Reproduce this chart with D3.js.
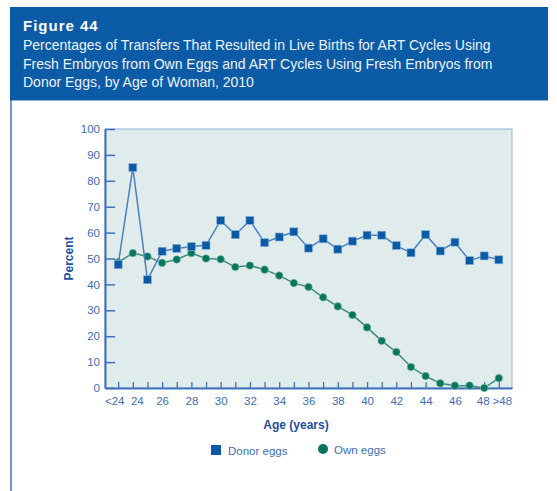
<!DOCTYPE html>
<html>
<head>
<meta charset="utf-8">
<script src="https://cdn.jsdelivr.net/npm/d3@7"></script>
<style>
  body { margin: 0; background: #fff; }
  svg { display: block; font-family: "Liberation Sans", Arial, sans-serif; }
</style>
</head>
<body>
<svg id="chart"></svg>
<script>
const ages = ["<24", "24", "25", "26", "27", "28", "29", "30", "31", "32", "33", "34", "35", "36",
  "37", "38", "39", "40", "41", "42", "43", "44", "45", "46", "47", "48", ">48"];
const donorEggs = [47.6, 85.1, 41.8, 52.8, 53.9, 54.6, 55.1, 64.7, 59.2, 64.7, 56.1, 58.3, 60.3, 54.0,
  57.6, 53.6, 56.7, 59.0, 59.0, 55.0, 52.2, 59.2, 52.9, 56.3, 49.2, 51.0, 49.5];
const ownEggs = [48.5, 52.1, 50.8, 48.3, 49.6, 52.1, 50.0, 49.7, 46.7, 47.3, 45.7, 43.4, 40.5, 39.0,
  35.0, 31.5, 28.2, 23.4, 18.2, 13.9, 8.1, 4.6, 1.8, 0.9, 0.9, 0, 3.8];
const labelAges = ["<24", "24", "26", "28", "30", "32", "34", "36", "38", "40", "42", "44", "46", "48", ">48"];
const yTicks = [0, 10, 20, 30, 40, 50, 60, 70, 80, 90, 100];
const titleLines = [
  "Percentages of Transfers That Resulted in Live Births for ART Cycles Using",
  "Fresh Embryos from Own Eggs and ART Cycles Using Fresh Embryos from",
  "Donor Eggs, by Age of Woman, 2010"
];

const width = 557, height = 491;
const plot = { left: 105, right: 512, top: 129, bottom: 388 };
const blue = "#0b5aa6", green = "#08755e", axisBlue = "#3f72b8", textBlue = "#3d6db5";

const svg = d3.select("#chart").attr("width", width).attr("height", height);

// header box
svg.append("rect").attr("x", 10).attr("y", 7).attr("width", 538).attr("height", 93).attr("fill", "#0b5ba6");
svg.append("line").attr("x1", 10).attr("x2", 548).attr("y1", 100.5).attr("y2", 100.5)
  .attr("stroke", "#8fb0da").attr("stroke-width", 1);
svg.append("line").attr("x1", 11).attr("x2", 11).attr("y1", 100).attr("y2", height)
  .attr("stroke", "#3b78c2").attr("stroke-width", 1.5);

svg.append("text").attr("x", 23).attr("y", 31).attr("fill", "#fff")
  .style("font-size", "15px").style("font-weight", "bold").style("letter-spacing", "1px")
  .text("Figure 44");
svg.append("g").selectAll("text").data(titleLines).join("text")
  .attr("x", 23).attr("y", (d, i) => 50 + i * 18.6)
  .attr("fill", "#eef3fa").style("font-size", "14px").text(d => d);

const x = d3.scalePoint().domain(ages).range([plot.left, plot.right]).padding(0.9);
const y = d3.scaleLinear().domain([0, 100]).range([plot.bottom, plot.top]);

svg.append("rect").attr("x", plot.left).attr("y", plot.top)
  .attr("width", plot.right - plot.left).attr("height", plot.bottom - plot.top)
  .attr("fill", "#e0ebeb").attr("stroke", "#8fb0da").attr("stroke-width", 1);

const yAxis = svg.append("g").attr("transform", `translate(${plot.left},0)`)
  .call(d3.axisLeft(y).tickValues(yTicks).tickSizeInner(-10).tickSizeOuter(0).tickPadding(5));
yAxis.select(".domain").attr("stroke", axisBlue).attr("stroke-width", 2);
yAxis.selectAll(".tick line").attr("stroke", axisBlue).attr("stroke-width", 1.5);
yAxis.selectAll(".tick text").attr("fill", textBlue).style("font-size", "11.5px")
  .style("font-family", "Liberation Sans, Arial, sans-serif");

// label nudges so "<24"/"24" and "48"/">48" do not touch
const labelShift = { "<24": -4, "24": 4, "48": -1.5, ">48": 3 };
const xAxis = svg.append("g").attr("transform", `translate(0,${plot.bottom})`)
  .call(d3.axisBottom(x).tickSizeInner(-6).tickSizeOuter(0).tickPadding(9)
    .tickFormat(d => labelAges.includes(d) ? d : ""));
xAxis.select(".domain").attr("stroke", axisBlue).attr("stroke-width", 2);
xAxis.selectAll(".tick line").attr("stroke", axisBlue).attr("stroke-width", 1.3);
xAxis.selectAll(".tick text").attr("fill", textBlue).style("font-size", "11.5px")
  .style("font-family", "Liberation Sans, Arial, sans-serif")
  .attr("dx", d => labelShift[d] || 0);

svg.append("text").attr("transform", `translate(73,${(plot.top + plot.bottom) / 2}) rotate(-90)`)
  .attr("text-anchor", "middle").attr("fill", "#1d4f9c")
  .style("font-size", "12px").style("font-weight", "bold").text("Percent");
svg.append("text").attr("x", 296).attr("y", 429).attr("text-anchor", "middle").attr("fill", "#1d4f9c")
  .style("font-size", "12px").style("font-weight", "bold").text("Age (years)");

// own eggs series
const seriesLine = d3.line().x((d, i) => x(ages[i])).y(d => y(d));
svg.append("path").datum(ownEggs).attr("d", seriesLine)
  .attr("fill", "none").attr("stroke", "#3d8d79").attr("stroke-width", 1.5);
svg.append("g").selectAll("circle").data(ownEggs).join("circle")
  .attr("cx", (d, i) => x(ages[i])).attr("cy", d => y(d)).attr("r", 3.8)
  .attr("fill", green).attr("stroke", "#9cc9bd").attr("stroke-width", 0.5);

// donor eggs series
svg.append("path").datum(donorEggs).attr("d", seriesLine)
  .attr("fill", "none").attr("stroke", "#4a7fc2").attr("stroke-width", 1.5);
svg.append("g").selectAll("rect").data(donorEggs).join("rect")
  .attr("x", (d, i) => x(ages[i]) - 4).attr("y", d => y(d) - 4)
  .attr("width", 8).attr("height", 8)
  .attr("fill", blue).attr("stroke", "#8fb3dc").attr("stroke-width", 0.6);

// legend
const legend = svg.append("g");
legend.append("rect").attr("x", 211).attr("y", 445).attr("width", 10).attr("height", 10).attr("fill", blue);
legend.append("text").attr("x", 228).attr("y", 455).attr("fill", textBlue)
  .style("font-size", "11.5px").text("Donor eggs");
legend.append("circle").attr("cx", 323).attr("cy", 449).attr("r", 5).attr("fill", green);
legend.append("text").attr("x", 334).attr("y", 454).attr("fill", textBlue)
  .style("font-size", "11.5px").text("Own eggs");
</script>
</body>
</html>
